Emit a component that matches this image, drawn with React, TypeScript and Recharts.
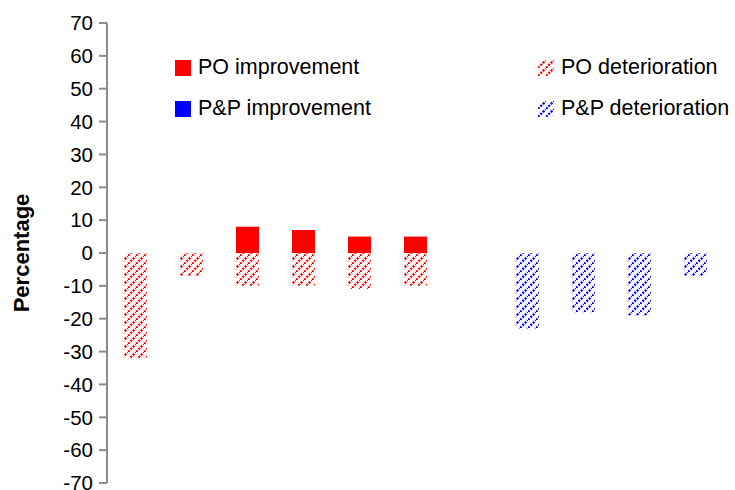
import React from "react";
import { BarChart, Bar, XAxis, YAxis } from "recharts";

const categories = ["1", "2", "3", "4", "5", "6", "7", "8", "9", "10", "11"];
const poImprovement = [0, 0, 8, 7, 5, 5, 0, 0, 0, 0, 0];
const poDeterioration = [-32, -7, -10, -10, -11, -10, 0, 0, 0, 0, 0];
const ppImprovement = [0, 0, 0, 0, 0, 0, 0, 0, 0, 0, 0];
const ppDeterioration = [0, 0, 0, 0, 0, 0, 0, -23, -18, -19, -7];
const yTicks = [70, 60, 50, 40, 30, 20, 10, 0, -10, -20, -30, -40, -50, -60, -70];

const RED = "#ff0000";
const BLUE = "#0000ff";
const FONT = "'Liberation Sans', Arial, sans-serif";

const data = categories.map((c, i) => ({
	name: c,
	poImp: poImprovement[i],
	poDet: poDeterioration[i],
	ppImp: ppImprovement[i],
	ppDet: ppDeterioration[i],
}));

function Hatch({ id, color }: { id: string; color: string }) {
	return (
		<pattern id={id} patternUnits="userSpaceOnUse" width={8} height={8}>
			<path
				d="M-2,2 L2,-2 M0,8 L8,0 M6,10 L10,6"
				stroke={color}
				strokeWidth={2.2}
				strokeDasharray="2.2 1.2"
			/>
		</pattern>
	);
}

const legendItems = [
	{ label: "PO improvement", x: 175, y: 60, color: RED, hatched: false },
	{ label: "P&P improvement", x: 175, y: 101, color: BLUE, hatched: false },
	{ label: "PO deterioration", x: 538, y: 60, color: RED, hatched: true },
	{ label: "P&P deterioration", x: 538, y: 101, color: BLUE, hatched: true },
];

function LegendBox() {
	return (
		<>
			{legendItems.map((it, i) => (
				<div
					key={it.label}
					style={{
						position: "absolute",
						left: it.x,
						top: it.y - 4,
						height: 23,
						display: "flex",
						alignItems: "center",
						fontFamily: FONT,
						fontSize: 21.5,
						color: "#000",
						whiteSpace: "nowrap",
					}}
				>
					<svg width={16} height={16} style={{ marginRight: 7 }}>
						<defs>
							<Hatch id={`lg${i}`} color={it.color} />
						</defs>
						<rect width={16} height={16} fill={it.hatched ? `url(#lg${i})` : it.color} />
					</svg>
					{it.label}
				</div>
			))}
		</>
	);
}

export default function App() {
	return (
		<div style={{ position: "absolute", left: 0, top: 0, width: 735, height: 490, background: "#fff" }}>
			<BarChart
				width={735}
				height={490}
				data={data}
				stackOffset="sign"
				barSize={23}
				margin={{ top: 23, right: 12, bottom: 7, left: 0 }}
			>
				<defs>
					<Hatch id="hatchRed" color={RED} />
					<Hatch id="hatchBlue" color={BLUE} />
				</defs>
				<XAxis dataKey="name" hide />
				<YAxis
					width={107}
					domain={[-70, 70]}
					ticks={yTicks}
					interval={0}
					tickSize={8}
					tickMargin={6}
					stroke="#8c8c8c"
					strokeWidth={2}
					tick={{ fill: "#000", fontSize: 20.5, fontFamily: FONT }}
					label={{
						value: "Percentage",
						angle: -90,
						position: "insideLeft",
						offset: 21,
						style: { fontSize: 22, fontWeight: "bold", fill: "#000", fontFamily: FONT, textAnchor: "middle" },
					}}
				/>
				<Bar dataKey="poImp" stackId="a" fill={RED} isAnimationActive={false} />
				<Bar dataKey="poDet" stackId="a" fill="url(#hatchRed)" isAnimationActive={false} />
				<Bar dataKey="ppImp" stackId="a" fill={BLUE} isAnimationActive={false} />
				<Bar dataKey="ppDet" stackId="a" fill="url(#hatchBlue)" isAnimationActive={false} />
			</BarChart>
			<LegendBox />
		</div>
	);
}
